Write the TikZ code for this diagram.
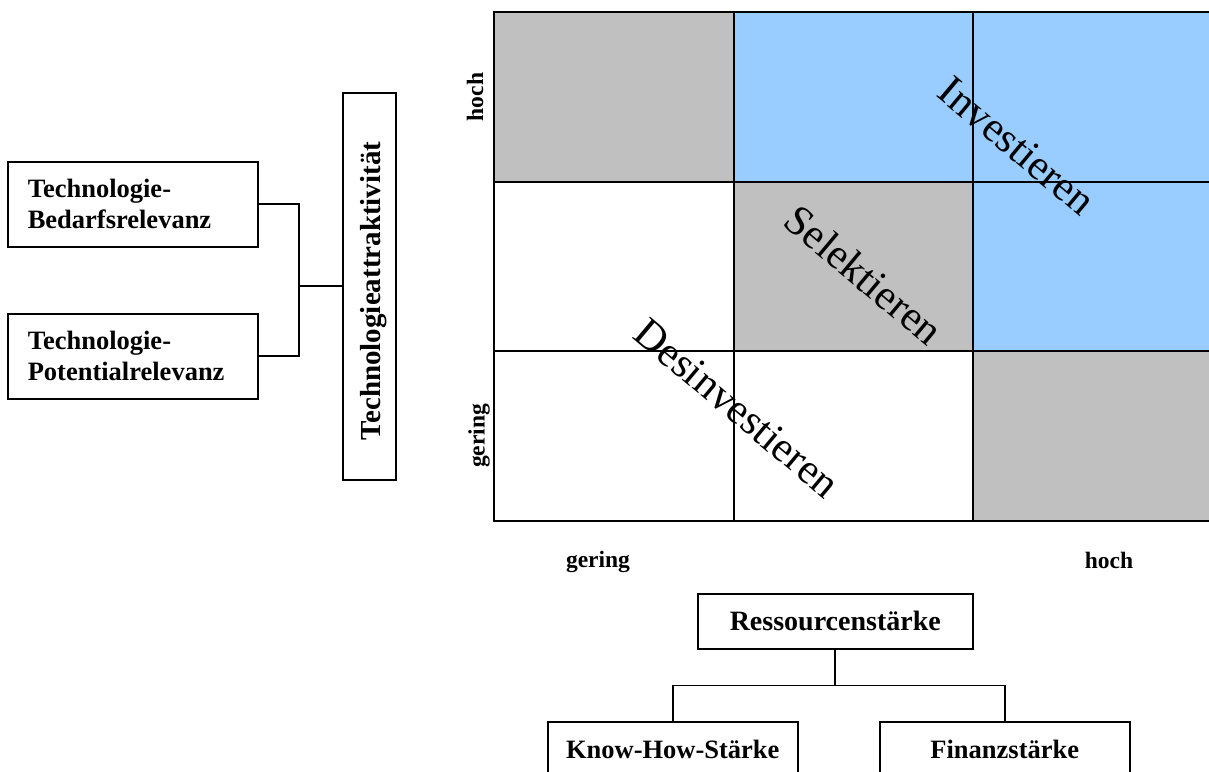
\documentclass[tikz,border=0pt]{standalone}
\usepackage{fontspec}
\setmainfont{Liberation Serif}
\definecolor{cellgray}{HTML}{C0C0C0}
\definecolor{cellblue}{HTML}{99CCFF}
\begin{document}
\begin{tikzpicture}[x=1pt,y=-1pt,
  box/.style={draw, line width=1.5pt, inner sep=0pt, font=\bfseries\fontsize{26.5}{31}\selectfont},
  conn/.style={line width=1.6pt},
  axislabel/.style={font=\bfseries\fontsize{23.5}{28}\selectfont, inner sep=0pt},
  strategy/.style={font=\fontsize{42.5}{48}\selectfont, rotate=-40, inner sep=0pt},
  gridline/.style={line width=1.8pt}]
\useasboundingbox (0,0) rectangle (1209,771);

% portfolio matrix: coloured cells
\fill[cellgray] (494,12) rectangle (734,182);
\fill[cellblue] (734,12) rectangle (1215,182);
\fill[cellgray] (734,182) rectangle (973,351);
\fill[cellblue] (973,182) rectangle (1215,351);
\fill[cellgray] (973,351) rectangle (1215,521);

% matrix lines
\draw[gridline] (1215,12) -- (494,12) -- (494,521) -- (1215,521);
\draw[gridline] (494,182) -- (1215,182) (494,351) -- (1215,351);
\draw[gridline] (734,12) -- (734,521) (973,12) -- (973,521);

% strategy labels along the diagonals
\node[strategy] (inv) at (1017,146) {Investieren};
\node[strategy] (sel) at (864,275) {Selektieren};
\node[strategy] (des) at (737,408) {Desinvestieren};

% axis scale labels
\node[axislabel, rotate=90] (yhigh) at (475,97) {hoch};
\node[axislabel, rotate=90] (ylow) at (479,436) {gering};
\node[axislabel] (xlow) at (598,562) {gering};
\node[axislabel] (xhigh) at (1109,560) {hoch};

% technology attractiveness tree
\node[box, text width=210pt, inner xsep=20pt, minimum height=85pt, align=left, anchor=north west] (bed) at (7,161) {Technologie-\\Bedarfsrelevanz};
\node[box, text width=210pt, inner xsep=20pt, minimum height=85pt, align=left, anchor=north west] (pot) at (7,313) {Technologie-\\Potentialrelevanz};
\node[draw, line width=1.5pt, inner sep=0pt, minimum width=53pt, minimum height=387pt, anchor=north west] (tech) at (342,92) {};
\node[rotate=90, inner sep=0pt, font=\bfseries\fontsize{29}{34}\selectfont] (techtext) at (374,291) {Technologieattraktivität};
\coordinate (j) at (299,286);
\draw[conn] (bed.east) -| (j) |- (pot.east);
\draw[conn] (j) -- (j -| tech.west);

% resource strength tree
\node[box, font=\bfseries\fontsize{28}{33}\selectfont, minimum width=275pt, minimum height=55pt, anchor=north west] (res) at (697,593) {Ressourcenstärke};
\node[box, minimum width=250pt, minimum height=55pt, anchor=north west] (know) at (547,721) {Know-How-Stärke};
\node[box, minimum width=250pt, minimum height=55pt, anchor=north west] (fin) at (879,721) {Finanzstärke};
\draw[conn] (res.south) -- ++(0,36) coordinate (bus);
\draw[conn] (know.north) |- (bus) -| (fin.north);
\end{tikzpicture}
\end{document}
